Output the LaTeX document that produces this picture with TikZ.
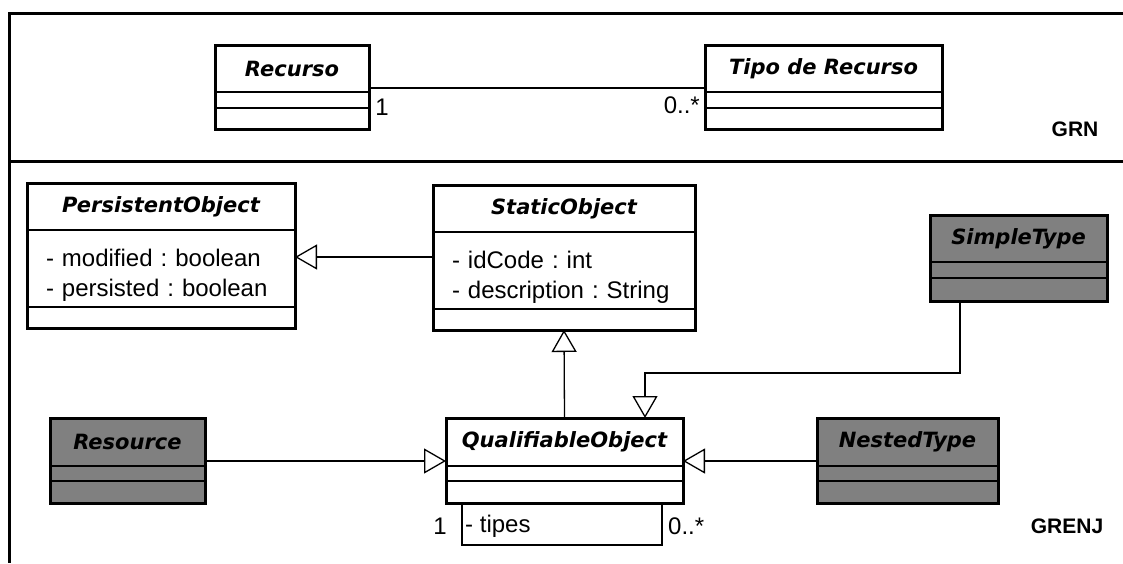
\documentclass[tikz,border=0pt]{standalone}
\usepackage{fontspec}
\setmainfont{Liberation Sans}
\newfontfamily\umlfont{DejaVu Sans}
\usetikzlibrary{arrows.meta,positioning}
\definecolor{umlgray}{RGB}{128,128,128}
\frenchspacing

\begin{document}
\begin{tikzpicture}[x=1pt,y=1pt,
  classname/.style={draw,line width=1.3pt,outer sep=0pt,inner sep=0pt,minimum height=47pt,font=\umlfont\fontsize{21}{25}\selectfont\bfseries\itshape},
  classpart/.style={draw,line width=1.3pt,outer sep=0pt,inner sep=0pt},
  attrs/.style={classpart,minimum height=77pt,align=left,inner xsep=19pt,font=\fontsize{24}{30}\selectfont},
  grayclass/.style={fill=umlgray},
  border/.style={line width=3pt},
  assoc/.style={line width=1.3pt},
  gen/.style={assoc,-{Triangle[open,length=22pt,width=25pt]}},
  tag/.style={inner sep=0pt,font=\fontsize{24}{28}\selectfont}]
\useasboundingbox (0,0) rectangle (1123,-563);
% package frame
\draw[border] (1123,-13) -- (9,-13) -- (9,-563);
\draw[border] (9,-161) -- (1123,-161);
% GRN
\begin{scope}[every node/.append style={minimum width=154pt}]
\node[classname,anchor=north west] (recurso) at (215,-45) {Recurso};
\node[classpart,minimum height=16pt,below=0pt of recurso] (recurso-a) {};
\node[classpart,minimum height=21pt,below=0pt of recurso-a] (recurso-o) {};
\draw[border] (recurso.north west) rectangle (recurso-o.south east);
\end{scope}
\begin{scope}[every node/.append style={minimum width=237pt}]
\node[classname,anchor=north west] (tipo) at (705,-45) {Tipo de Recurso};
\node[classpart,minimum height=16pt,below=0pt of tipo] (tipo-a) {};
\node[classpart,minimum height=21pt,below=0pt of tipo-a] (tipo-o) {};
\draw[border] (tipo.north west) rectangle (tipo-o.south east);
\end{scope}
% GRENJ
\begin{scope}[every node/.append style={minimum width=268pt}]
\node[classname,anchor=north west] (persistent) at (27,-183) {PersistentObject};
\node[attrs,text width=230pt,below=0pt of persistent] (persistent-a) {\rule{0pt}{30pt}- modified : boolean\\- persisted : boolean};
\node[classpart,minimum height=21pt,below=0pt of persistent-a] (persistent-o) {};
\draw[border] (persistent.north west) rectangle (persistent-o.south east);
\end{scope}
\begin{scope}[every node/.append style={minimum width=262pt}]
\node[classname,anchor=north west] (static) at (433,-185) {StaticObject};
\node[attrs,text width=224pt,below=0pt of static] (static-a) {\rule{0pt}{30pt}- idCode : int\\- description : String};
\node[classpart,minimum height=21pt,below=0pt of static-a] (static-o) {};
\draw[border] (static.north west) rectangle (static-o.south east);
\end{scope}
\begin{scope}[every node/.append style={minimum width=177pt,grayclass}]
\node[classname,anchor=north west] (simple) at (930,-215) {SimpleType};
\node[classpart,minimum height=16pt,below=0pt of simple] (simple-a) {};
\node[classpart,minimum height=23pt,below=0pt of simple-a] (simple-o) {};
\draw[border] (simple.north west) rectangle (simple-o.south east);
\end{scope}
\begin{scope}[every node/.append style={minimum width=155pt,grayclass}]
\node[classname,minimum height=48pt,anchor=north west] (resource) at (50,-418) {Resource};
\node[classpart,minimum height=15pt,below=0pt of resource] (resource-a) {};
\node[classpart,minimum height=22pt,below=0pt of resource-a] (resource-o) {};
\draw[border] (resource.north west) rectangle (resource-o.south east);
\end{scope}
\begin{scope}[every node/.append style={minimum width=237pt}]
\node[classname,minimum height=48pt,anchor=north west] (qualif) at (446,-418) {QualifiableObject};
\node[classpart,minimum height=15pt,below=0pt of qualif] (qualif-a) {};
\node[classpart,minimum height=22pt,below=0pt of qualif-a] (qualif-o) {};
\draw[border] (qualif.north west) rectangle (qualif-o.south east);
\end{scope}
\begin{scope}[every node/.append style={minimum width=181pt,grayclass}]
\node[classname,minimum height=48pt,anchor=north west] (nested) at (817,-418) {NestedType};
\node[classpart,minimum height=15pt,below=0pt of nested] (nested-a) {};
\node[classpart,minimum height=22pt,below=0pt of nested-a] (nested-o) {};
\draw[border] (nested.north west) rectangle (nested-o.south east);
\end{scope}
% labels
\node[tag] (mult-r) at (382,-107) {1};
\node[tag,anchor=east] (mult-t) at (700,-105) {0..*};
\node[tag,font=\fontsize{21}{25}\selectfont\bfseries] (grn) at (1075,-129) {GRN};
\node[tag,font=\fontsize{21}{25}\selectfont\bfseries] (grenj) at (1067,-526) {GRENJ};
\node[tag] (mult-q) at (440,-526) {1};
\node[tag,anchor=west] (tipes) at (465,-526) {- tipes};
\node[tag,anchor=west] (mult-s) at (668,-526) {0..*};
% connectors
\coordinate (s1) at ([yshift=-25pt]static-a.north west);
\coordinate (q1) at ([xshift=-38pt]qualif.north east);
\begin{scope}
\draw[assoc] ([yshift=4pt]recurso.south east) -- ([yshift=4pt]tipo.south west);
\draw[gen] (s1) -- (s1 -| persistent-a.east);
\draw[gen] (qualif.north) -- (static-o.south);
\draw[gen] ([xshift=30pt]simple-o.south west) -- ++(0,-72) -| (q1);
\draw[gen] ([yshift=5pt]resource.south east) -- ([yshift=5pt]qualif.south west);
\draw[gen] ([yshift=5pt]nested.south west) -- ([yshift=5pt]qualif.south east);
\draw[assoc] ([xshift=16pt]qualif-o.south west) -- ++(0,-42) -| ([xshift=-21pt]qualif-o.south east);
\end{scope}
\end{tikzpicture}
\end{document}
